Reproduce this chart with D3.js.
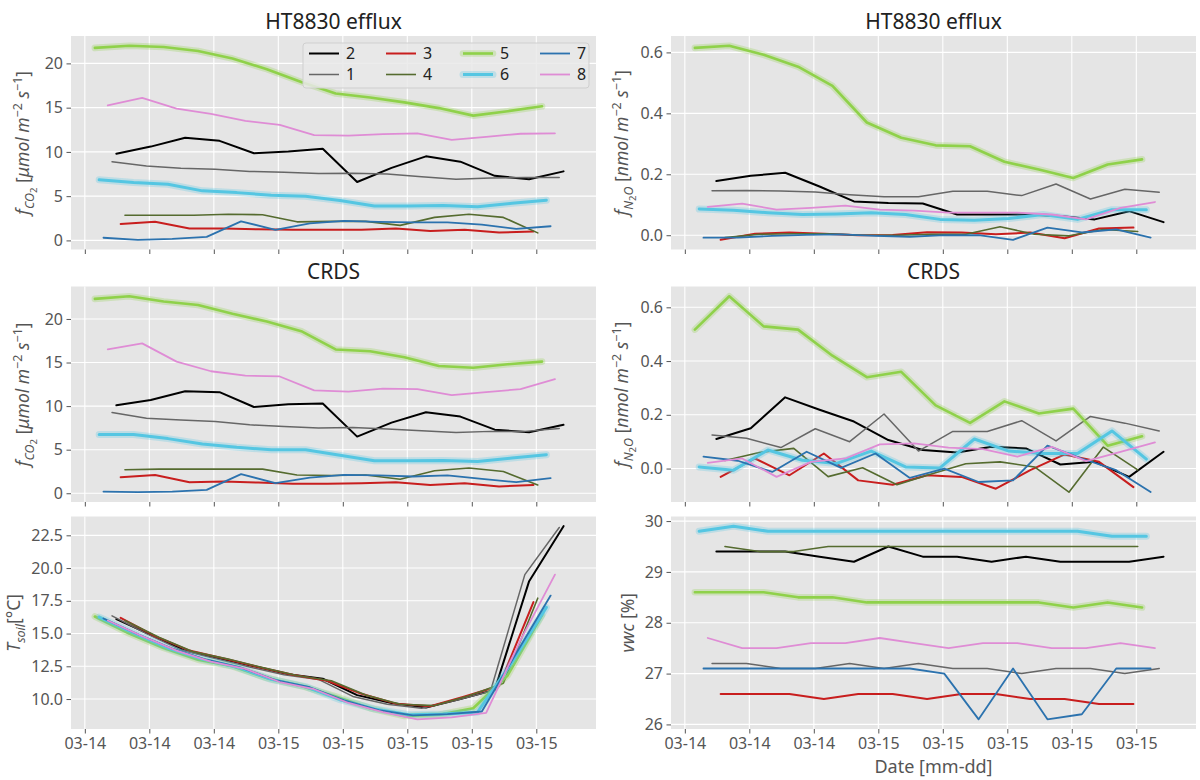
<!DOCTYPE html>
<html><head><meta charset="utf-8">
<script src="https://cdn.jsdelivr.net/npm/d3@7"></script>
<style>
body{margin:0;background:#fff}
svg{display:block}
text{font-family:"Noto Sans",sans-serif;white-space:pre}
</style>
</head><body>
<svg id="chart" width="1200" height="780"></svg>
<script>
// ---------------- data ----------------
const seriesOrder = ["2","1","3","4","5","6","7","8"];
const seriesColors = {"2":"#000000","1":"#666666","3":"#c81e1e","4":"#556b2f","5":"#8fd14a","6":"#55c6e2","7":"#2b72ae","8":"#df8cd5"};
const seriesWidths = {"2":2,"1":1.5,"3":2,"4":1.6,"5":2.6,"6":3,"7":1.8,"8":1.8};
const haloSeries = ["5","6"];
// sampling schedule (first sample time on 03-14 for each chamber, minutes between visits)
const chamberFirst = {"5":"15:28","6":"15:40","7":"15:52","8":"16:04","1":"16:16","2":"16:28","3":"16:40","4":"16:52"};
const samplingIntervalMin = 96;

const htCO2 = {
 "2":[9.8,10.6,11.6,11.25,9.85,10.05,10.35,6.6,8.2,9.5,8.9,7.3,6.9,7.8],
 "1":[8.9,8.4,8.15,8.05,7.8,7.7,7.55,7.6,7.5,7.2,6.9,7.05,7.1,7.1],
 "3":[1.85,2.1,1.35,1.35,1.25,1.2,1.2,1.2,1.35,1.05,1.2,0.9,1.0],
 "4":[2.85,2.85,2.85,2.95,2.9,2.1,2.15,2.15,1.7,2.6,2.95,2.6,0.85],
 "5":[21.75,22.0,21.85,21.4,20.55,19.35,17.9,16.6,16.15,15.6,14.95,14.1,14.6,15.15],
 "6":[6.85,6.55,6.35,5.6,5.4,5.1,5.0,4.5,3.9,3.9,3.95,3.8,4.2,4.55],
 "7":[0.3,0.07,0.18,0.4,2.15,1.2,1.93,2.2,2.1,2.04,2.04,1.78,1.3,1.6],
 "8":[15.25,16.1,14.9,14.3,13.5,13.05,11.9,11.85,12.0,12.1,11.35,11.7,12.05,12.1]
};
const crdsCO2 = {
 "2":[10.1,10.7,11.7,11.6,9.9,10.2,10.3,6.5,8.1,9.3,8.8,7.3,7.0,7.85],
 "1":[9.27,8.6,8.4,8.24,7.85,7.66,7.5,7.55,7.36,7.16,6.97,7.1,7.1,7.43],
 "3":[1.85,2.1,1.27,1.35,1.23,1.1,1.1,1.15,1.27,0.96,1.15,0.77,0.96],
 "4":[2.7,2.77,2.77,2.77,2.77,2.1,2.04,2.1,1.6,2.58,2.9,2.5,0.96],
 "5":[22.3,22.6,22.0,21.6,20.6,19.7,18.6,16.5,16.3,15.6,14.6,14.4,14.8,15.1],
 "6":[6.73,6.73,6.27,5.65,5.27,5.0,5.0,4.35,3.73,3.73,3.77,3.65,4.04,4.42],
 "7":[0.19,0.12,0.19,0.38,2.2,1.15,1.8,2.1,2.04,1.92,2.04,1.65,1.27,1.73],
 "8":[16.5,17.2,15.1,14.0,13.5,13.4,11.8,11.65,12.0,11.95,11.26,11.6,11.95,13.1]
};
const htN2O = {
 "2":[0.178,0.195,0.205,0.16,0.111,0.106,0.104,0.068,0.068,0.068,0.063,0.052,0.079,0.043],
 "1":[0.146,0.147,0.145,0.142,0.133,0.126,0.126,0.144,0.144,0.13,0.168,0.119,0.151,0.141],
 "3":[-0.015,0.005,0.009,0.005,0.0,0.001,0.01,0.009,0.003,0.009,-0.01,0.022,0.025],
 "4":[-0.008,0.003,0.005,0.005,0.0,0.0,0.003,0.003,0.028,0.003,-0.002,0.019,0.012],
 "5":[0.615,0.622,0.592,0.553,0.49,0.37,0.32,0.295,0.292,0.241,0.216,0.188,0.232,0.249],
 "6":[0.086,0.082,0.074,0.068,0.07,0.074,0.068,0.052,0.049,0.055,0.068,0.052,0.084,0.084],
 "7":[-0.008,-0.008,-0.002,0.001,0.003,-0.002,-0.005,0.0,0.0,-0.015,0.025,0.009,0.019,-0.008],
 "8":[0.093,0.104,0.084,0.09,0.097,0.084,0.081,0.074,0.074,0.074,0.068,0.052,0.09,0.109]
};
const crdsN2O = {
 "2":[0.11,0.15,0.265,0.219,0.175,0.106,0.069,0.06,0.081,0.075,0.015,0.025,-0.031,0.0625],
 "1":[0.125,0.113,0.078,0.148,0.1,0.203,0.065,0.138,0.138,0.178,0.103,0.194,0.169,0.14],
 "3":[-0.031,0.0375,-0.025,0.056,-0.044,-0.06,-0.025,-0.031,-0.075,-0.006,0.0525,0.025,-0.069],
 "4":[0.03,0.06,0.075,-0.03,0.003,-0.06,-0.02,0.018,0.025,0.006,-0.088,0.08,-0.005],
 "5":[0.517,0.641,0.529,0.517,0.42,0.34,0.36,0.235,0.17,0.25,0.205,0.223,0.085,0.12],
 "6":[0.006,-0.006,0.069,0.031,0.019,0.065,0.006,0.0025,0.11,0.065,0.056,0.056,0.14,0.035],
 "7":[0.044,0.029,-0.0125,0.0625,0.0025,0.056,-0.035,0.0,-0.05,-0.044,0.085,0.0375,-0.006,-0.0875],
 "8":[0.021,0.0375,-0.031,0.025,0.0375,0.09,0.094,0.078,0.0725,0.044,0.081,0.0275,0.0625,0.0975]
};
const tSoil = {
 "2":[16.1,14.9,13.7,13.1,12.5,11.9,11.55,10.3,9.7,9.35,10.0,10.7,19.0,23.2],
 "1":[16.35,15.0,13.75,13.1,12.45,11.85,11.5,10.2,9.6,9.3,9.9,10.6,19.5,23.1],
 "3":[16.2,14.8,13.7,13.1,12.45,11.85,11.4,10.4,9.65,9.45,10.2,11.0,17.4],
 "4":[16.0,14.7,13.6,13.05,12.4,11.8,11.4,10.3,9.6,9.5,10.25,11.2,17.7],
 "5":[16.3,15.0,13.9,13.0,12.5,11.6,11.0,10.2,9.3,8.7,8.8,9.3,11.8,16.4],
 "6":[16.25,15.05,13.9,13.05,12.45,11.5,10.95,9.95,9.25,8.8,8.85,9.0,12.8,17.0],
 "7":[16.15,14.95,13.85,13.0,12.4,11.45,10.9,9.9,9.15,8.75,8.85,9.05,13.5,17.9],
 "8":[16.0,14.8,13.7,12.85,12.3,11.3,10.75,9.7,9.0,8.45,8.6,8.95,14.5,19.5]
};
const vwc = {
 "2":[29.4,29.4,29.4,29.3,29.2,29.5,29.3,29.3,29.2,29.3,29.2,29.2,29.2,29.3],
 "1":[27.2,27.2,27.1,27.1,27.2,27.1,27.2,27.1,27.1,27.0,27.1,27.1,27.0,27.1],
 "3":[26.6,26.6,26.6,26.5,26.6,26.6,26.5,26.6,26.6,26.5,26.5,26.4,26.4],
 "4":[29.5,29.4,29.4,29.5,29.5,29.5,29.5,29.5,29.5,29.5,29.5,29.5,29.5],
 "5":[28.6,28.6,28.6,28.5,28.5,28.4,28.4,28.4,28.4,28.4,28.4,28.3,28.4,28.3],
 "6":[29.8,29.9,29.8,29.8,29.8,29.8,29.8,29.8,29.8,29.8,29.8,29.8,29.7,29.7],
 "7":[27.1,27.1,27.1,27.1,27.1,27.1,27.1,27.0,26.1,27.1,26.1,26.2,27.1,27.1],
 "8":[27.7,27.5,27.5,27.6,27.6,27.7,27.6,27.5,27.6,27.6,27.5,27.5,27.6,27.5]
};
const co2Ticks = [0,5,10,15,20];
const n2oTicks = [0,0.2,0.4,0.6];
const tsoilTicks = [10,12.5,15,17.5,20,22.5];
const vwcTicks = [26,27,28,29,30];
const titles = ["HT8830 efflux","CRDS"];
const xLabelText = "Date [mm-dd]";

// ---------------- layout ----------------
const svg = d3.select("#chart");
const cols = [{x0:71,x1:596},{x0:671,x1:1196}];
const rows = [{y0:36,y1:249.5},{y0:286.5,y1:502},{y0:516.5,y1:729}];
const BG = "#e5e5e5", TXT = "#555555";

function sampleTimes(ch, n){
  const [h,m] = chamberFirst[ch].split(":").map(Number);
  return d3.range(n).map(k => new Date(2023,2,14,h,m + k*samplingIntervalMin));
}
function toSeries(obj){
  return seriesOrder.map(ch => {
    const t = sampleTimes(ch, obj[ch].length);
    return {ch, pts: obj[ch].map((v,i)=>({t:t[i], v}))};
  });
}
const coLabel = [{t:"f",i:1},{t:"CO",i:1,s:"sub"},{t:"2",s:"sub2"},{t:" ["},{t:"μmol m",i:1},{t:"−2",s:"sup"},{t:" s",i:1},{t:"−1",s:"sup"},{t:"]"}];
const noLabel = [{t:"f",i:1},{t:"N",i:1,s:"sub"},{t:"2",s:"sub2"},{t:"O",i:1,s:"sub"},{t:" ["},{t:"nmol m",i:1},{t:"−2",s:"sup"},{t:" s",i:1},{t:"−1",s:"sup"},{t:"]"}];
const tLabel = [{t:"T",i:1},{t:"soil",i:1,s:"sub"},{t:"[°C]"}];
const wLabel = [{t:"vwc",i:1},{t:" [%]"}];

const panels = [
 {data:htCO2,  r:0,c:0, ticks:co2Ticks,  fmt:d3.format("d"),   label:coLabel, lx:29},
 {data:htN2O,  r:0,c:1, ticks:n2oTicks,  fmt:d3.format(".1f"), label:noLabel, lx:628},
 {data:crdsCO2,r:1,c:0, ticks:co2Ticks,  fmt:d3.format("d"),   label:coLabel, lx:29},
 {data:crdsN2O,r:1,c:1, ticks:n2oTicks,  fmt:d3.format(".1f"), label:noLabel, lx:628},
 {data:tSoil,  r:2,c:0, ticks:tsoilTicks,fmt:d3.format(".1f"), label:tLabel,  lx:20},
 {data:vwc,    r:2,c:1, ticks:vwcTicks,  fmt:d3.format("d"),   label:wLabel,  lx:634}
];

// common x domain from all sample times, 5% padding
const allTimes = seriesOrder.flatMap(ch => sampleTimes(ch, 14));
const [tmin,tmax] = d3.extent(allTimes);
const pad = (tmax - tmin)*0.05;
const xDomain = [new Date(+tmin - pad), new Date(+tmax + pad)];

function yLabel(g, parts, x, y){
  const t = g.append("text").attr("transform",`translate(${x},${y}) rotate(-90)`)
    .attr("text-anchor","middle").attr("fill",TXT).style("font-size","17.5px");
  let cur = 0;
  parts.forEach(p=>{
    const target = p.s==="sub"?5 : p.s==="sub2"?8 : p.s==="sup"?-7 : 0;
    const ts = t.append("tspan").text(p.t).attr("dy", target-cur);
    cur = target;
    if(p.i) ts.style("font-style","italic");
    if(p.s) ts.style("font-size", p.s==="sub2" ? "9.5px" : "12.5px");
  });
}

panels.forEach(p=>{
  const C = cols[p.c], R = rows[p.r];
  const x = d3.scaleTime().domain(xDomain).range([C.x0, C.x1]);
  const series = toSeries(p.data);
  const vals = series.flatMap(s=>s.pts.map(d=>d.v));
  const [vmin,vmax] = d3.extent(vals);
  const yp = (vmax-vmin)*0.05;
  const y = d3.scaleLinear().domain([vmin-yp, vmax+yp]).range([R.y1, R.y0]);
  const g = svg.append("g");
  g.append("rect").attr("x",C.x0).attr("y",R.y0).attr("width",C.x1-C.x0).attr("height",R.y1-R.y0).attr("fill",BG);
  const xt = x.ticks(d3.timeHour.every(3));
  g.selectAll(".gx").data(xt).join("line").attr("x1",d=>x(d)).attr("x2",d=>x(d)).attr("y1",R.y0).attr("y2",R.y1).attr("stroke","#fff").attr("stroke-width",1.1);
  g.selectAll(".gy").data(p.ticks).join("line").attr("x1",C.x0).attr("x2",C.x1).attr("y1",d=>y(d)).attr("y2",d=>y(d)).attr("stroke","#fff").attr("stroke-width",1.1);

  // axes
  const ay = g.append("g").attr("transform",`translate(${C.x0},0)`)
    .call(d3.axisLeft(y).tickValues(p.ticks).tickFormat(p.fmt).tickSize(4.5).tickPadding(3.5));
  const ax = g.append("g").attr("transform",`translate(0,${R.y1})`)
    .call(d3.axisBottom(x).tickValues(xt).tickFormat(p.r===2 ? d3.timeFormat("%m-%d") : ()=>"").tickSize(4.5).tickPadding(4));
  [ay,ax].forEach(a=>{
    a.select(".domain").remove();
    a.selectAll(".tick line").attr("stroke",TXT).attr("stroke-width",1);
    a.selectAll(".tick text").attr("fill",TXT).style("font-size","16px").style("font-family",'"Noto Sans",sans-serif');
  });

  const line = d3.line().x(d=>x(d.t)).y(d=>y(d.v));
  const lg = g.append("g").attr("fill","none").attr("stroke-linejoin","round").attr("stroke-linecap","round");
  series.forEach(s=>{
    if(haloSeries.includes(s.ch)){
      lg.append("path").attr("d",line(s.pts)).attr("stroke",seriesColors[s.ch]).attr("stroke-width",seriesWidths[s.ch]+4).attr("stroke-opacity",0.28);
    }
    lg.append("path").attr("d",line(s.pts)).attr("stroke",seriesColors[s.ch]).attr("stroke-width",seriesWidths[s.ch]);
  });

  yLabel(g, p.label, p.lx, (R.y0+R.y1)/2);
  if(p.r<2){
    g.append("text").attr("x",(C.x0+C.x1)/2).attr("y",p.r===0?28.5:278.5).attr("text-anchor","middle")
      .attr("fill","#222").style("font-size","21px").text(titles[p.r]);
  }
  if(p.r===2 && p.c===1){
    g.append("text").attr("x",(C.x0+C.x1)/2).attr("y",773).attr("text-anchor","middle")
      .attr("fill",TXT).style("font-size","18px").text(xLabelText);
  }

  // legend in first panel
  if(p.r===0 && p.c===0){
    const L = g.append("g");
    L.append("rect").attr("x",303).attr("y",43).attr("width",286).attr("height",45).attr("rx",3)
      .attr("fill","#e9e9e9").attr("fill-opacity",0.85).attr("stroke","#cfcfcf");
    seriesOrder.forEach((ch,i)=>{
      const col = Math.floor(i/2), row = i%2;
      const hx = 309 + col*77, hy = 53.5 + row*21;
      if(haloSeries.includes(ch)){
        L.append("line").attr("x1",hx).attr("x2",hx+30).attr("y1",hy).attr("y2",hy).attr("stroke",seriesColors[ch]).attr("stroke-width",seriesWidths[ch]+4).attr("stroke-opacity",0.28).attr("stroke-linecap","round");
      }
      L.append("line").attr("x1",hx).attr("x2",hx+30).attr("y1",hy).attr("y2",hy).attr("stroke",seriesColors[ch]).attr("stroke-width",seriesWidths[ch]);
      L.append("text").attr("x",hx+37).attr("y",hy+5.5).attr("fill","#222").style("font-size","16px").text(ch);
    });
  }
});
</script>
</body></html>
